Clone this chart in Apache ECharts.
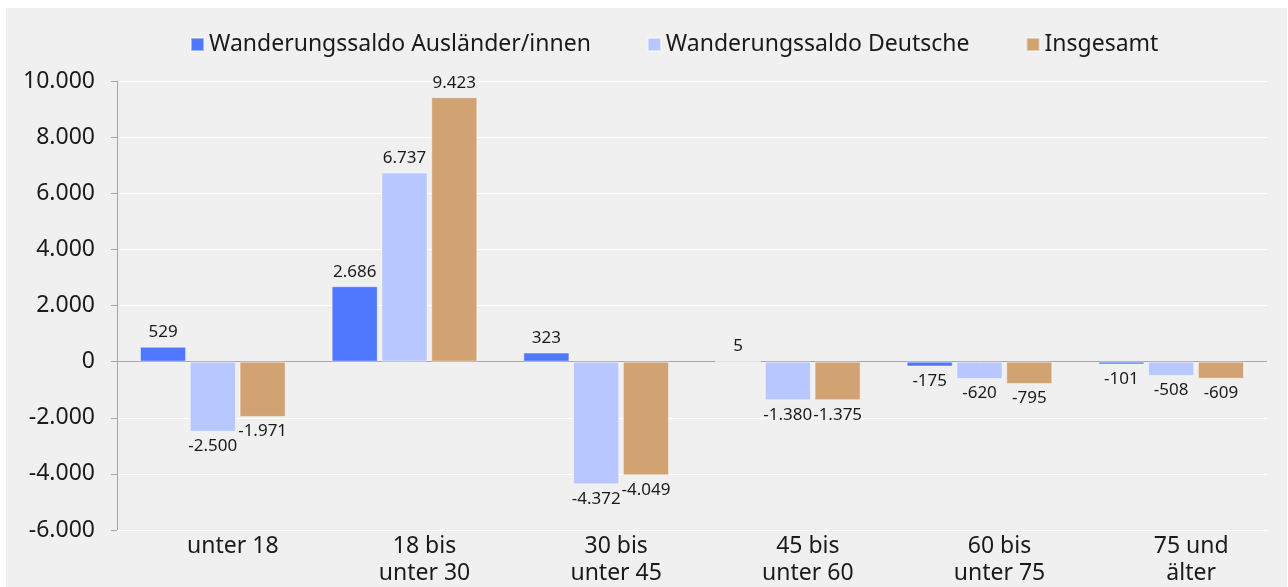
<!DOCTYPE html>
<html style="height: 100%">
<head>
    <meta charset="UTF-8">
    <title>Wanderungssaldo</title>
</head>
<body style="height: 100%; margin: 0; background: #fff">
<div id="container" style="width: 1288px; height: 587px"></div>
<script src="https://cdn.jsdelivr.net/npm/echarts@6/dist/echarts.min.js"></script>
<script>
    var categories = ['unter 18', '18 bis\nunter 30', '30 bis\nunter 45', '45 bis\nunter 60', '60 bis\nunter 75', '75 und\nälter'];
    var auslaender = [529, 2686, 323, 5, -175, -101];
    var deutsche = [-2500, 6737, -4372, -1380, -620, -508];
    var insgesamt = [-1971, 9423, -4049, -1375, -795, -609];
    var seriesNames = ['Wanderungssaldo Ausländer/innen', 'Wanderungssaldo Deutsche', 'Insgesamt'];
    var colors = ['#4f78ff', '#b8c7ff', '#d2a372'];

    var font = '"Noto Sans", sans-serif';

    // Zahlen mit Punkt als Tausendertrenner
    function fmt(v) {
        var s = String(Math.abs(v)).replace(/\B(?=(\d{3})+(?!\d))/g, '.');
        return (v < 0 ? '-' : '') + s;
    }

    function makeData(arr) {
        return arr.map(function (v) {
            return {
                value: v,
                label: {position: v < 0 ? 'bottom' : 'top'}
            };
        });
    }

    // Nulllinie grau, sonst weiße Gitterlinien (-6000 .. 10000 = 9 Linien)
    var splitColors = ['#ffffff', '#ffffff', '#ffffff', '#a6a6a6', '#ffffff', '#ffffff', '#ffffff', '#ffffff', '#ffffff'];

    var allData = [auslaender, deutsche, insgesamt];
    var series = [];
    for (var i = 0; i < 3; i++) {
        series.push({
            name: seriesNames[i],
            type: 'bar',
            data: makeData(allData[i]),
            barGap: '8%',
            barCategoryGap: '24%',
            itemStyle: {
                color: colors[i],
                borderColor: 'rgba(255,255,255,0.45)',
                borderWidth: 1
            },
            label: {
                show: true,
                distance: 6,
                fontFamily: font,
                fontSize: 17,
                color: '#1a1a1a',
                formatter: function (p) { return fmt(p.value); }
            }
        });
    }

    var dom = document.getElementById('container');
    var myChart = echarts.init(dom);
    var option = {
        animation: false,
        backgroundColor: '#ffffff',
        textStyle: {fontFamily: font},
        graphic: [{
            type: 'rect',
            z: -10,
            shape: {x: 6, y: 8, width: 1281, height: 579},
            style: {fill: '#f0f0f0'}
        }],
        legend: {
            left: 185,
            top: 28,
            itemWidth: 13,
            itemHeight: 13,
            itemGap: 56,
            icon: 'rect',
            textStyle: {fontFamily: font, fontSize: 23, color: '#1a1a1a'},
            data: seriesNames
        },
        grid: {
            left: 117,
            right: 21,
            top: 81,
            bottom: 54,
            containLabel: false
        },
        xAxis: {
            type: 'category',
            data: categories,
            axisLine: {show: true, onZero: false, lineStyle: {color: '#ffffff'}},
            axisTick: {show: false},
            axisLabel: {
                margin: 3,
                fontFamily: font,
                fontSize: 23,
                lineHeight: 27,
                color: '#1a1a1a',
                padding: [0, 0, 0, 40],
                interval: 0
            }
        },
        yAxis: {
            type: 'value',
            min: -6000,
            max: 10000,
            interval: 2000,
            axisLine: {show: true, lineStyle: {color: '#a6a6a6'}},
            axisTick: {show: true, length: 6, lineStyle: {color: '#a6a6a6'}},
            axisLabel: {
                margin: 22,
                fontFamily: font,
                fontSize: 23,
                color: '#1a1a1a',
                formatter: fmt
            },
            splitLine: {show: true, lineStyle: {color: splitColors, width: 1}}
        },
        series: series
    };
    myChart.setOption(option);
</script>
</body>
</html>
